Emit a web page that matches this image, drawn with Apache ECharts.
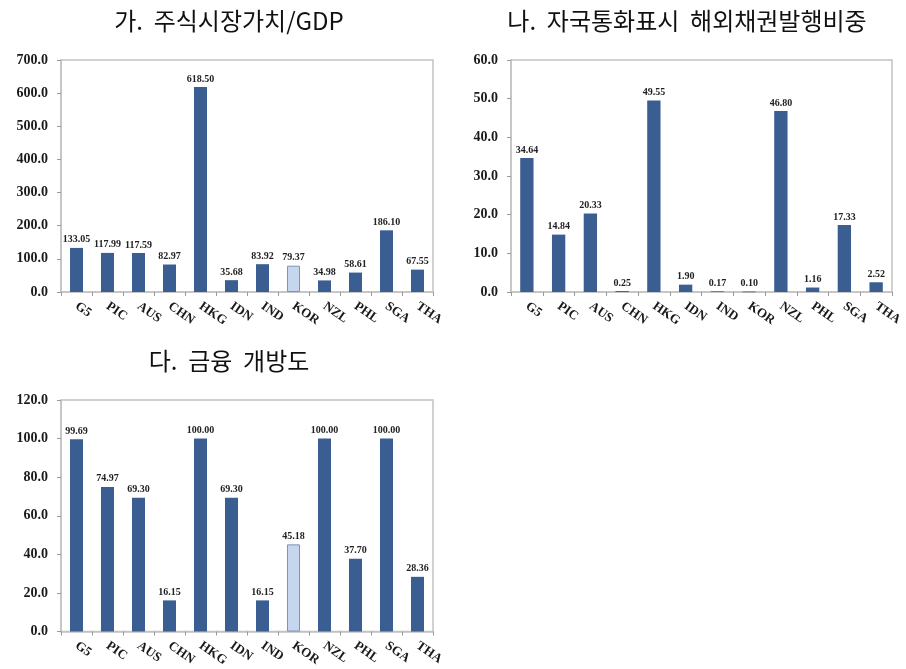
<!DOCTYPE html>
<html>
<head>
<meta charset="utf-8">
<script src="https://cdn.jsdelivr.net/npm/echarts@6/dist/echarts.min.js"></script>
<style>
  html, body { margin: 0; padding: 0; background: #ffffff; }
  #chart { width: 906px; height: 669px; }
</style>
</head>
<body>
<div id="chart"></div>
<script>
// Country groups shown on every panel
const categories = ['G5', 'PIC', 'AUS', 'CHN', 'HKG', 'IDN', 'IND', 'KOR', 'NZL', 'PHL', 'SGA', 'THA'];
const highlightCategory = 'KOR';

// 가. 주식시장가치/GDP
const marketCapGdp = [133.05, 117.99, 117.59, 82.97, 618.50, 35.68, 83.92, 79.37, 34.98, 58.61, 186.10, 67.55];
// 나. 자국통화표시 해외채권발행비중
const localCurrencyBondShare = [34.64, 14.84, 20.33, 0.25, 49.55, 1.90, 0.17, 0.10, 46.80, 1.16, 17.33, 2.52];
// 다. 금융 개방도
const financialOpenness = [99.69, 74.97, 69.30, 16.15, 100.00, 69.30, 16.15, 45.18, 100.00, 37.70, 100.00, 28.36];

const panelTitles = ['가.  주식시장가치/GDP', '나.  자국통화표시  해외채권발행비중', '다.  금융  개방도'];
const yMax = [700, 60, 120];
const yStep = [100, 10, 20];

const BAR = '#3b5e92';
const BAR_LIGHT = '#c6d6ee';
const GRID_LINE = '#c2c2c2';
const SERIF = '"Liberation Serif", "Times New Roman", serif';

const grids = [
  { left: 61, top: 60, width: 372, height: 232 },
  { left: 511, top: 60, width: 381, height: 232 },
  { left: 61, top: 400, width: 372, height: 232 }
];
const titlePos = [
  { x: 229, y: 9 },
  { x: 687, y: 9 },
  { x: 229, y: 349 }
];

function barData(values) {
  return values.map((v, i) => {
    if (categories[i] === highlightCategory) {
      return { value: v, itemStyle: { color: BAR_LIGHT, borderColor: '#8393ab', borderWidth: 1 } };
    }
    return v;
  });
}

const allSeries = [marketCapGdp, localCurrencyBondShare, financialOpenness];

const option = {
  backgroundColor: '#ffffff',
  animation: false,
  title: panelTitles.map((t, i) => ({
    text: t,
    left: titlePos[i].x,
    top: titlePos[i].y,
    textAlign: 'center',
    padding: 0,
    textStyle: {
      fontFamily: '"Noto Sans CJK KR", sans-serif',
      fontSize: 24,
      fontWeight: 'normal',
      color: '#111111'
    }
  })),
  grid: grids.map(g => Object.assign({
    show: true,
    borderColor: GRID_LINE,
    borderWidth: 1.5,
    backgroundColor: 'transparent',
    containLabel: false
  }, g)),
  xAxis: grids.map((g, i) => ({
    type: 'category',
    gridIndex: i,
    data: categories,
    axisLine: { show: true, lineStyle: { color: GRID_LINE, width: 1.5 } },
    axisTick: { show: true, length: 4, lineStyle: { color: '#9a9a9a' } },
    axisLabel: {
      interval: 0,
      rotate: -35,
      margin: 13,
      fontFamily: SERIF,
      fontWeight: 'bold',
      fontSize: 13,
      color: '#1a1a1a'
    },
    splitLine: { show: false }
  })),
  yAxis: grids.map((g, i) => ({
    type: 'value',
    gridIndex: i,
    min: 0,
    max: yMax[i],
    interval: yStep[i],
    axisLine: { show: true, lineStyle: { color: GRID_LINE, width: 1.5 } },
    axisTick: { show: true, length: 4, lineStyle: { color: '#9a9a9a' } },
    axisLabel: {
      margin: 13,
      fontFamily: SERIF,
      fontWeight: 'bold',
      fontSize: 14,
      color: '#1a1a1a',
      formatter: v => v.toFixed(1)
    },
    splitLine: { show: false }
  })),
  series: allSeries.map((vals, i) => ({
    type: 'bar',
    xAxisIndex: i,
    yAxisIndex: i,
    barWidth: '42%',
    data: barData(vals),
    itemStyle: { color: BAR },
    label: {
      show: true,
      position: 'top',
      distance: 3,
      fontFamily: SERIF,
      fontWeight: 'bold',
      fontSize: 10,
      color: '#222222',
      formatter: p => Number(p.value).toFixed(2)
    }
  }))
};

const chart = echarts.init(document.getElementById('chart'), null, { renderer: 'canvas' });
chart.setOption(option);
</script>
</body>
</html>
